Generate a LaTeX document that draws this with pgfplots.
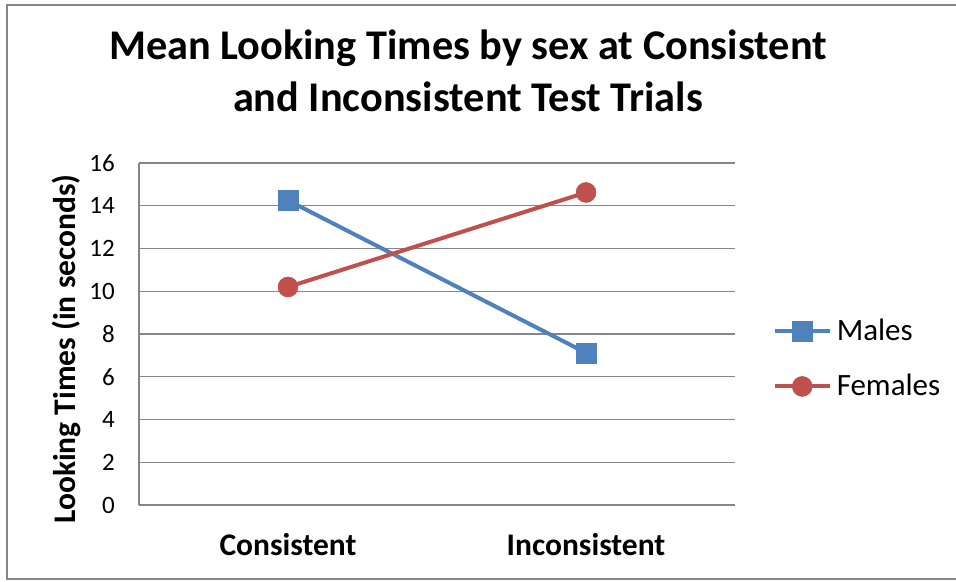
\documentclass[border=0pt]{standalone}
\usepackage{fontspec}
\setmainfont{Carlito}
\usepackage{pgfplots}
\pgfplotsset{compat=1.18}
\definecolor{mblue}{HTML}{4F81BD}
\definecolor{mred}{HTML}{C0504D}
\definecolor{gridgray}{HTML}{868686}
\begin{document}
\begin{tikzpicture}[x=1bp,y=1bp]
\useasboundingbox (0,0) rectangle (956,582);
\fill[white] (0,0) rectangle (956,582);
\draw[gridgray, line width=2bp] (7,3) rectangle (965,577);
\begin{axis}[
  at={(139bp,77bp)}, anchor=south west,
  scale only axis, width=596bp, height=342bp,
  xmin=-0.5, xmax=1.5, ymin=0, ymax=16,
  xtick={0,1}, xticklabels={Consistent,Inconsistent},
  ytick={0,2,...,16},
  axis x line*=bottom, axis y line*=left,
  axis line style={gridgray, line width=1.3bp, -},
  ymajorgrids, grid style={gridgray, line width=1.3bp},
  major tick length=0pt,
  clip=false,
  /pgf/number format/assume math mode=true,
  yticklabel style={font=\fontsize{25bp}{30bp}\selectfont, anchor=east, inner sep=0pt, xshift=-24bp},
  xticklabel style={font=\bfseries\fontsize{31.5bp}{38bp}\selectfont, anchor=base, inner sep=0pt, yshift=-51bp},
  title={Mean Looking Times by sex at Consistent\\and Inconsistent Test Trials},
  title style={at={(axis description cs:0.552,1.1345)}, anchor=base, align=center, font=\bfseries\fontsize{42.3bp}{52bp}\selectfont, inner sep=0pt},
  ylabel={Looking Times (in seconds)},
  ylabel style={at={(axis description cs:-0.1225,0.456)}, anchor=center, font=\bfseries\fontsize{31.5bp}{38bp}\selectfont, inner sep=0pt},
  legend style={at={(axis description cs:1.063,0.430)}, anchor=west, draw=none, fill=none, font=\fontsize{31bp}{37bp}\selectfont, row sep=32bp, column sep=5bp, inner sep=0pt, nodes={inner sep=0pt}},
  legend cell align=left,
  legend image code/.code={\draw[mark repeat=2,mark phase=2,#1] plot coordinates {(0bp,-1bp) (27.5bp,-1bp) (55bp,-1bp)};},
]
\addplot[mblue, line width=4bp, mark=square*, mark size=10bp, mark options={line width=0.5bp}] coordinates {(0,14.25) (1,7.12)};
\addlegendentry{Males}
\addplot[mred, line width=4bp, mark=*, mark size=10bp, mark options={line width=0.5bp}] coordinates {(0,10.2) (1,14.62)};
\addlegendentry{Females}
\end{axis}
\end{tikzpicture}
\end{document}
